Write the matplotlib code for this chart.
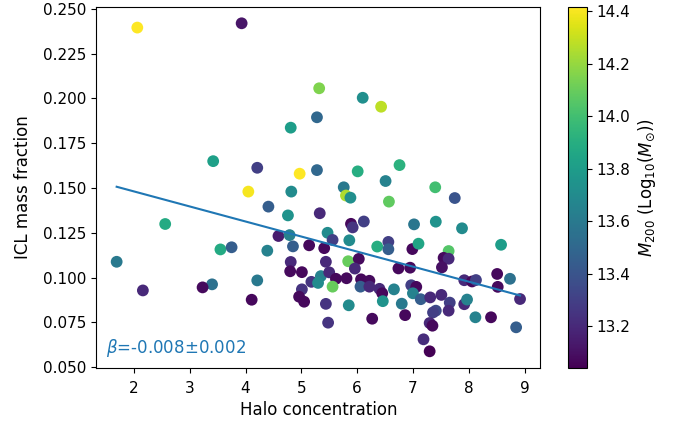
import numpy as np
import matplotlib
matplotlib.use("Agg")
import matplotlib.pyplot as plt

# Halo concentration, ICL mass fraction and log10(M200 / Msun) per cluster
concentration = [
    2.06, 3.93, 5.32, 5.28, 4.81, 6.10, 6.43, 3.42, 4.21, 4.97,
    5.28, 6.01, 6.51, 6.76, 5.76, 5.80, 5.88, 7.40, 7.75, 6.57,
    4.05, 4.82, 4.41, 4.76, 5.33, 2.56, 5.89, 5.92, 6.12, 7.02,
    7.41, 7.88, 4.59, 4.79, 5.47, 5.56, 5.86, 5.14, 4.85, 5.41,
    6.36, 6.56, 6.56, 6.99, 7.10, 8.58, 7.64, 7.55, 7.64, 7.52,
    1.69, 3.55, 3.75, 4.39, 4.81, 4.80, 5.01, 5.18, 5.35, 5.30,
    4.21, 3.40, 3.23, 2.16, 4.11, 5.01, 4.96, 5.05, 5.44, 5.84,
    6.03, 5.96, 6.74, 6.95, 5.50, 5.62, 5.81, 6.07, 6.22, 5.56,
    6.06, 6.22, 6.40, 6.45, 6.46, 6.66, 6.97, 7.06, 7.00, 7.14,
    6.80, 7.31, 7.51, 7.66, 7.92, 7.97, 7.92, 8.06, 8.13, 8.51,
    8.52, 8.74, 8.92, 8.85, 8.40, 8.12, 7.64, 7.41, 7.36, 7.30,
    7.35, 7.19, 7.30, 6.86, 6.27, 5.85, 5.44, 5.48,
]
icl_fraction = [
    0.2396, 0.2420, 0.2057, 0.1895, 0.1837, 0.2004, 0.1954, 0.1650, 0.1613, 0.1580,
    0.1600, 0.1593, 0.1539, 0.1628, 0.1504, 0.1458, 0.1446, 0.1504, 0.1444, 0.1424,
    0.1480, 0.1480, 0.1396, 0.1347, 0.1359, 0.1299, 0.1300, 0.1280, 0.1313, 0.1297,
    0.1312, 0.1275, 0.1232, 0.1237, 0.1250, 0.1210, 0.1208, 0.1180, 0.1174, 0.1164,
    0.1173, 0.1199, 0.1158, 0.1159, 0.1189, 0.1183, 0.1148, 0.1110, 0.1105, 0.1057,
    0.1088, 0.1157, 0.1169, 0.1150, 0.1087, 0.1035, 0.1030, 0.0976, 0.1008, 0.0970,
    0.0984, 0.0962, 0.0945, 0.0928, 0.0876, 0.0934, 0.0893, 0.0865, 0.1088, 0.1091,
    0.1104, 0.1050, 0.1051, 0.1055, 0.1029, 0.0993, 0.0996, 0.0990, 0.0982, 0.0949,
    0.0949, 0.0949, 0.0937, 0.0912, 0.0868, 0.0934, 0.0957, 0.0948, 0.0912, 0.0879,
    0.0854, 0.0889, 0.0903, 0.0860, 0.0851, 0.0877, 0.0985, 0.0978, 0.0986, 0.1020,
    0.0948, 0.0993, 0.0880, 0.0722, 0.0778, 0.0778, 0.0815, 0.0815, 0.0805, 0.0746,
    0.0731, 0.0655, 0.0588, 0.0790, 0.0770, 0.0845, 0.0853, 0.0748,
]
log_m200 = [
    14.417, 13.12, 14.15, 13.50, 13.80, 13.72, 14.28, 13.82, 13.30, 14.417,
    13.50, 13.90, 13.65, 13.92, 13.60, 14.25, 13.72, 14.00, 13.40, 14.08,
    14.40, 13.70, 13.45, 13.75, 13.20, 13.88, 13.07, 13.25, 13.30, 13.58,
    13.75, 13.70, 13.15, 13.65, 13.70, 13.30, 13.70, 13.07, 13.45, 13.07,
    13.90, 13.30, 13.45, 13.07, 13.85, 13.80, 14.05, 13.08, 13.20, 13.10,
    13.60, 13.88, 13.45, 13.65, 13.20, 13.08, 13.07, 13.25, 13.65, 13.70,
    13.60, 13.55, 13.08, 13.20, 13.07, 13.25, 13.08, 13.07, 13.20, 14.10,
    13.08, 13.20, 13.07, 13.08, 13.20, 13.07, 13.08, 13.07, 13.08, 14.10,
    13.45, 13.20, 13.20, 13.07, 13.75, 13.65, 13.30, 13.07, 13.65, 13.45,
    13.60, 13.20, 13.20, 13.30, 13.20, 13.65, 13.20, 13.07, 13.30, 13.07,
    13.08, 13.55, 13.20, 13.45, 13.07, 13.65, 13.20, 13.35, 13.30, 13.20,
    13.07, 13.22, 13.043, 13.07, 13.08, 13.70, 13.25, 13.25,
]

# Linear fit of ICL fraction against concentration
beta = -0.0084
beta_err = 0.002
intercept = 0.1649

c = np.array(concentration)
f = np.array(icl_fraction)
m = np.array(log_m200)

fig = plt.figure(figsize=(6.79, 4.25), dpi=100)
ax = fig.add_axes([0.1421, 0.1348, 0.6535, 0.849])
cax = fig.add_axes([0.837, 0.1348, 0.027, 0.849])

sc = ax.scatter(c, f, c=m, cmap="viridis", s=72, linewidths=0)

xfit = np.array([c.min(), c.max()])
ax.plot(xfit, intercept + beta * xfit, color="#1f77b4", lw=1.5)

ax.text(0.022, 0.025, r"$\beta$=%.3f$\pm$%.3f" % (beta, beta_err),
        transform=ax.transAxes, color="#1f77b4", fontsize=12,
        ha="left", va="bottom")

ax.tick_params(labelsize=11)
ax.tick_params(axis="x", pad=6.0)
ax.set_xlabel("Halo concentration", fontsize=12)
ax.set_ylabel("ICL mass fraction", fontsize=12, labelpad=8)

cb = fig.colorbar(sc, cax=cax)
cb.ax.tick_params(labelsize=11)
cb.set_label(r"$M_{200}$ (Log$_{10}$($M_{\odot}$))", fontsize=12)

fig.savefig("out.png", dpi=100)
